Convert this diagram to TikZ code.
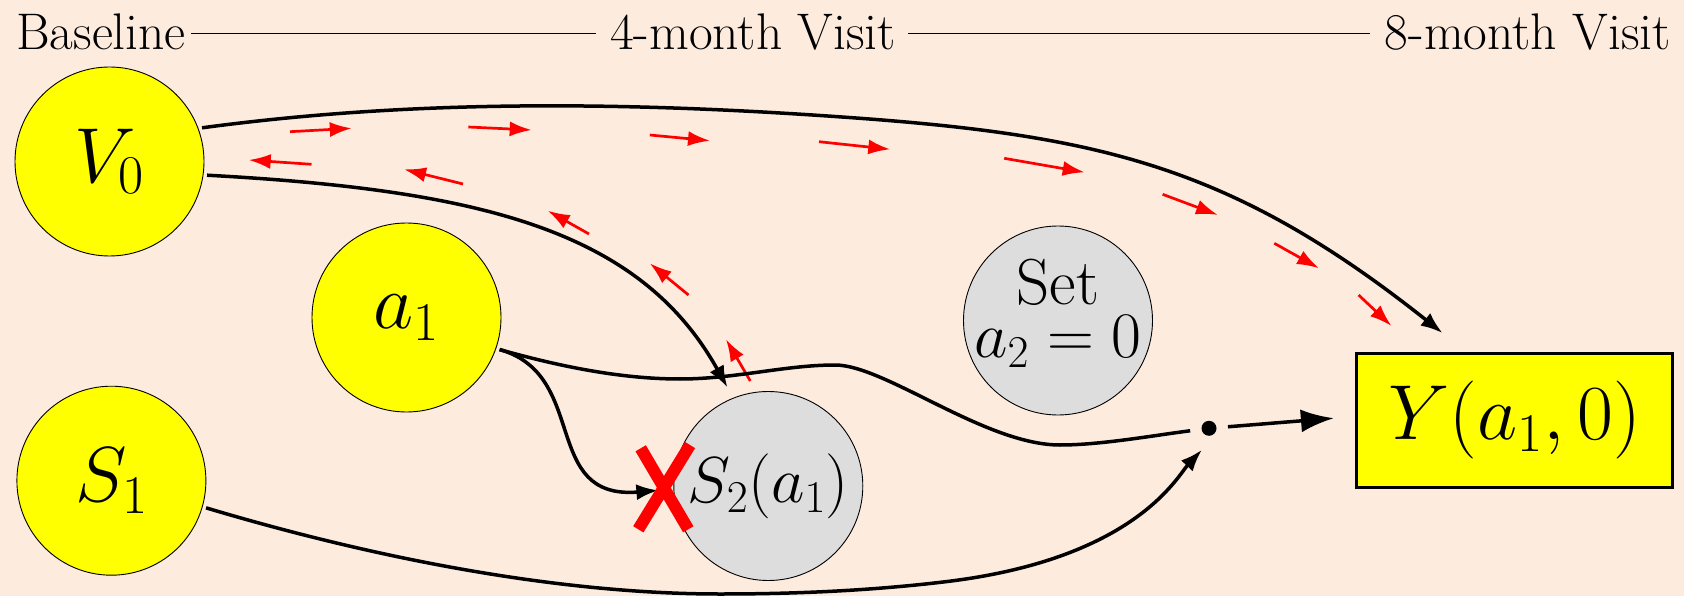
\RequirePackage{fix-cm}
\documentclass[tikz,border=0pt]{standalone}
\usepackage{fontspec}
\usetikzlibrary{arrows.meta,calc}
\definecolor{bgpeach}{RGB}{253,235,222}
\definecolor{nodegray}{RGB}{221,221,221}
\definecolor{nodeyellow}{RGB}{255,255,0}
\tikzset{
  every node/.style={inner sep=0pt},
  titletext/.style={font=\fontsize{51.5}{60}\selectfont},
  tline/.style={line width=1.3pt},
  ycirc/.style={circle, draw=black, line width=0.9pt, fill=nodeyellow, minimum size=189pt, outer sep=4pt, font=\fontsize{78}{90}\selectfont},
  gcirc/.style={circle, draw=black, line width=0.9pt, fill=nodegray, minimum size=189pt, outer sep=4pt, font=\fontsize{65}{53}\selectfont},
  ybox/.style={rectangle, draw=black, line width=3.5pt, fill=nodeyellow, minimum width=316pt, minimum height=134pt, font=\fontsize{78}{90}\selectfont},
  dotnode/.style={circle, minimum size=38pt, outer sep=0pt},
  conn/.style={line width=3.5pt, -{Latex[length=22pt,width=16pt]}},
  bigconn/.style={line width=3.5pt, -{Latex[length=33pt,width=23pt]}},
  plainconn/.style={line width=3.5pt},
  redarr/.style={red, line width=2.7pt, -{Latex[length=22pt,width=15pt]}},
  crossmark/.style={red, line width=12pt}
}
\begin{document}
\begin{tikzpicture}[x=1pt,y=-1pt]
\fill[bgpeach] (0,0) rectangle (1684,596);
\useasboundingbox (0,0) rectangle (1684,596);

% timeline
\node[titletext, anchor=base west] (bl) at (16,50) {Baseline};
\node[titletext, anchor=base west] (four) at (610,50) {4-month Visit};
\node[titletext, anchor=base east] (eight) at (1671,50) {8-month Visit};
\draw[tline] ($(bl.base east)+(5,-16.7)$) -- ($(four.base west)+(-14,-16.7)$);
\draw[tline] ($(four.base east)+(12,-16.7)$) -- ($(eight.base west)+(-15,-16.7)$);

% nodes
\node[ycirc] (V0) at (109.5,161.5) {$V_0$};
\node[ycirc] (a1) at (406.5,317.5) {$a_1$};
\node[ycirc] (S1) at (111.4,480.7) {$S_1$};
\node[gcirc] (S2) at (768.3,486) {$S_2(a_1)$};
\node[gcirc, label={[align=center, font=\fontsize{65}{53}\selectfont, yshift=7pt]center:{Set\\$a_2=0$}}] (set) at (1058,320.5) {};
\node[ybox] (Y) at (1514.6,420.5) {$Y(a_1,0)$};
\node[dotnode] (dot) at (1209,428.3) {};
\fill (dot.center) circle[radius=7.5pt];

% red path arrows
\foreach \sx/\sy/\tx/\ty in {290/131.7/351.8/128.3, 468.3/127/531.7/130, 649.8/135/710/140.7, 819/141.7/890.3/149.3, 1004.2/158.3/1084.7/172.3, 1162.6/194.3/1218/215, 1274.3/243.3/1319/268.3, 1358.6/295/1391.5/326,
  311.5/164.3/248.7/160, 463/184/404/169.3, 589/234/547.8/210.7, 688.5/295/649.8/263.3, 750.3/381/726/339.3}
  \draw[redarr] (\sx,\sy) -- (\tx,\ty);

% connectors
\draw[conn, shorten >=30pt] (V0.20) .. controls (416,99) and (629,102) .. (842,117)
   .. controls (1100,135) and (1232,166) .. ([xshift=-48.5pt]Y.north);
\draw[conn, shorten >=8pt] (V0.-8) .. controls (480,190) and (640,230) .. (S2.112);
\draw[conn, shorten >=11.5pt] (a1.-19) .. controls (590,375) and (540,500) .. (S2.182);
\draw[plainconn] (a1.-19) .. controls (558,366) and (620,379) .. (680,379)
   .. controls (735,379) and (785,365) .. (835,365)
   .. controls (885,365) and (985,445) .. (1060,445)
   .. controls (1100,445) and (1150,436) .. (dot);
\draw[conn, shorten >=4pt] (S1.-16) .. controls (377,559) and (560,594) .. (720,594)
   .. controls (795,594) and (870.7,590.7) .. (945.7,581.7)
   .. controls (1135.7,558.9) and (1177.4,476) .. (dot.-103);
\draw[bigconn, shorten >=21pt] (dot) -- ([yshift=4pt]Y.west);

% cross-out mark on the a1 -> S2 arrow
\draw[crossmark] (640.7,448.3) -- (688.3,529.3) (690,445) -- (638.3,529.3);
\end{tikzpicture}
\end{document}
